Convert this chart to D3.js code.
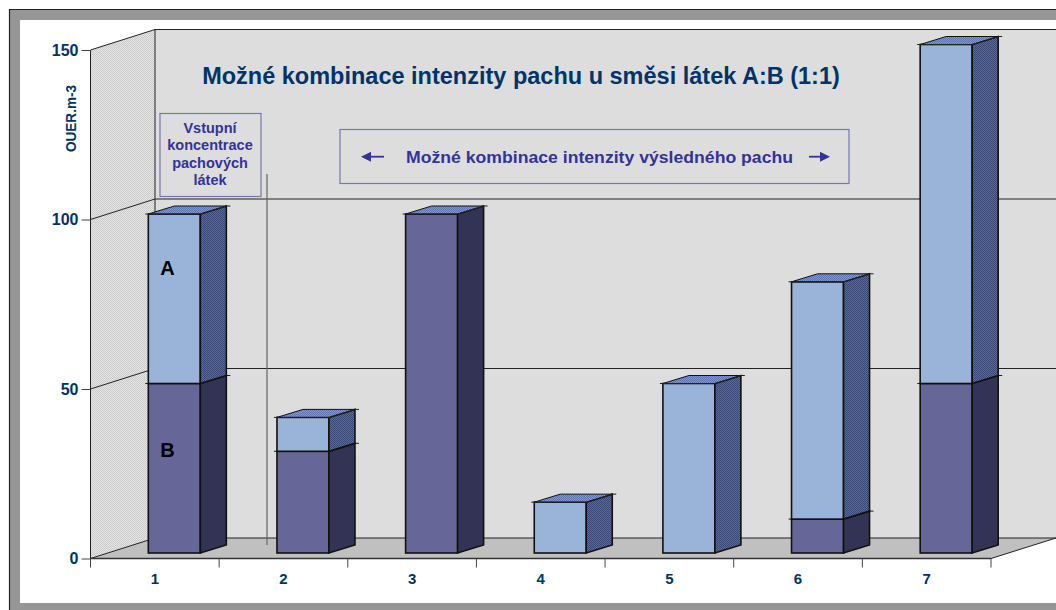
<!DOCTYPE html>
<html>
<head>
<meta charset="utf-8">
<script src="https://cdn.jsdelivr.net/npm/d3@7"></script>
<style>
html, body { margin: 0; padding: 0; background: #fff; overflow: hidden; }
text { font-family: "Liberation Sans", Arial, sans-serif; font-weight: bold; }
</style>
</head>
<body>
<div class="main"></div>
<script>
let categories = ["1", "2", "3", "4", "5", "6", "7"];
let valuesB = [50, 30, 100, 0, 0, 10, 50];
let valuesA = [50, 10, 0, 15, 50, 70, 100];
let yTicks = [0, 50, 100, 150];
let chartTitle = "Možné kombinace intenzity pachu u směsi látek A:B (1:1)";
let axisTitle = "OUER.m-3";
let inputLabel = ["Vstupní", "koncentrace", "pachových", "látek"];
let combinationLabel = "Možné kombinace intenzity výsledného pachu";

let width = 1056;
let height = 610;

let svg = d3.select(".main").append("svg")
    .attr("width", width)
    .attr("height", height)
    .style("display", "block");

const defs = svg.append("defs");

// dotted fills for the walls and the bar sides
function dots(id, bg, fg) {
    let p = defs.append("pattern")
        .attr("id", id)
        .attr("width", 2).attr("height", 2)
        .attr("patternUnits", "userSpaceOnUse");
    p.append("rect").attr("width", 2).attr("height", 2).attr("fill", bg);
    p.append("rect").attr("width", 1).attr("height", 1).attr("fill", fg);
    p.append("rect").attr("x", 1).attr("y", 1).attr("width", 1).attr("height", 1).attr("fill", fg);
}
dots("wall-dots", "#e4e4e4", "#cccccc");
dots("side-a", "#5a6a9a", "#3a4775");
dots("top-a", "#7f95d0", "#5f75b8");

// frame
svg.append("rect")
    .attr("x", 15).attr("y", 15)
    .attr("width", 1060).attr("height", 593)
    .attr("fill", "#fff")
    .attr("stroke", "#969696")
    .attr("stroke-width", 10);
svg.append("path")
    .attr("d", "M1056,9.5H9.5V610")
    .attr("fill", "none")
    .attr("stroke", "#222")
    .attr("stroke-width", 1.2);

// scales
let x0 = 90.5, x1 = 991, y0 = 558.5, y150 = 50;
let depthX = 64.5, depthY = -20.5;

let x = d3.scaleBand().domain(categories).range([x0, x1]);
let y = d3.scaleLinear().domain([0, 150]).range([y0, y150]);

// back wall, left wall, floor
svg.append("path")
    .attr("d", `M${x0 + depthX},${y(150) + depthY}H${width}V${y(0) + depthY}H${x0 + depthX}Z`)
    .attr("fill", "#dddddd");
svg.append("path")
    .attr("d", `M${x0},${y(150)}L${x0 + depthX},${y(150) + depthY}V${y(0) + depthY}L${x0},${y(0)}Z`)
    .attr("fill", "url(#wall-dots)");
svg.append("path")
    .attr("d", `M${x0},${y(0)}L${x0 + depthX},${y(0) + depthY}H${width}L${x1},${y(0)}Z`)
    .attr("fill", "#c0c0c0");

// grid lines
svg.selectAll(".grid")
    .data(yTicks)
    .enter().append("path")
    .attr("class", "grid")
    .attr("d", d => `M${x0},${y(d)}L${x0 + depthX},${y(d) + depthY}H${width}`)
    .attr("fill", "none")
    .attr("stroke", "#222")
    .attr("stroke-width", 1);
svg.append("path")
    .attr("d", `M${x0 + depthX},${y(150) + depthY}V${y(0) + depthY}`)
    .attr("stroke", "#222");
svg.append("path")
    .attr("d", `M${x1},${y(0)}L${width},${y(0) + depthY}`)
    .attr("stroke", "#222");

// axes
let yAxis = d3.axisLeft(y).tickValues(yTicks).tickSize(9).tickPadding(3);
let gy = svg.append("g").attr("transform", `translate(${x0},0)`).call(yAxis);
gy.select(".domain").attr("d", `M0,${y(150)}V${y(0)}`).attr("stroke", "#222");
gy.selectAll("line").attr("stroke", "#444");
gy.selectAll("text")
    .attr("font-size", 16)
    .attr("fill", "#003366");

let xAxis = d3.axisBottom(x).tickSize(0).tickPadding(15);
let gx = svg.append("g").attr("transform", `translate(0,${y0})`).call(xAxis);
gx.select(".domain").attr("d", `M${x0},0H${x1}`).attr("stroke", "#333").attr("stroke-width", 1.4);
gx.selectAll("text")
    .attr("font-size", 15)
    .attr("fill", "#003366");
gx.selectAll(".sep")
    .data(d3.range(categories.length + 1))
    .enter().append("line")
    .attr("class", "sep")
    .attr("x1", i => x0 + i * x.bandwidth())
    .attr("x2", i => x0 + i * x.bandwidth())
    .attr("y1", 0).attr("y2", 9)
    .attr("stroke", "#444");

// vertical separator
svg.append("line")
    .attr("x1", 267).attr("x2", 267)
    .attr("y1", 174).attr("y2", 545)
    .attr("stroke", "#666")
    .attr("stroke-width", 1.2);

// bars
let barW = 52, sideX = 26, sideY = -8;
let shiftX = 19.5, shiftY = -5.5;

let segments = [];
categories.forEach((c, i) => {
    if (valuesB[i] > 0) segments.push({ cat: c, from: 0, to: valuesB[i], kind: "b", top: valuesA[i] === 0 });
    if (valuesA[i] > 0) segments.push({ cat: c, from: valuesB[i], to: valuesB[i] + valuesA[i], kind: "a", top: true });
});

let bars = svg.selectAll(".bar")
    .data(segments)
    .enter().append("g")
    .attr("class", "bar");

function bx(d) { return x(d.cat) + x.bandwidth() / 2 - barW / 2 + shiftX; }

bars.append("rect")
    .attr("x", bx)
    .attr("y", d => y(d.to) + shiftY)
    .attr("width", barW)
    .attr("height", d => y(d.from) - y(d.to))
    .attr("fill", d => d.kind === "a" ? "#99b3d9" : "#666699")
    .attr("stroke", "#111")
    .attr("stroke-width", 1.6);

bars.append("path")
    .attr("d", d => {
        let l = bx(d) + barW, t = y(d.to) + shiftY, b = y(d.from) + shiftY;
        return `M${l},${t}l${sideX},${sideY}V${b + sideY}l${-sideX},${-sideY}Z`;
    })
    .attr("fill", d => d.kind === "a" ? "url(#side-a)" : "#333355")
    .attr("stroke", "#111")
    .attr("stroke-width", 1.6);

bars.filter(d => d.top).append("path")
    .attr("d", d => {
        let l = bx(d), t = y(d.to) + shiftY;
        return `M${l},${t}l${sideX},${sideY}h${barW}l${-sideX},${-sideY}Z`;
    })
    .attr("fill", "url(#top-a)")
    .attr("stroke", "#111")
    .attr("stroke-width", 1);

// small overhang at each segment top
bars.append("path")
    .attr("d", d => {
        let l = bx(d), t = y(d.to) + shiftY;
        return `M${l - 3},${t}H${l + barW}l${sideX},${sideY}h4`;
    })
    .attr("fill", "none")
    .attr("stroke", "#222")
    .attr("stroke-width", 1);

// texts
svg.append("text")
    .attr("x", 521).attr("y", 84)
    .attr("text-anchor", "middle")
    .attr("font-size", 23.5)
    .attr("fill", "#003366")
    .text(chartTitle);

svg.append("text")
    .attr("transform", "translate(75.5,118.5) rotate(-90)")
    .attr("text-anchor", "middle")
    .attr("font-size", 15)
    .attr("textLength", 67)
    .attr("lengthAdjust", "spacingAndGlyphs")
    .attr("fill", "#003366")
    .text(axisTitle);

svg.append("rect")
    .attr("x", 160).attr("y", 113.5)
    .attr("width", 101).attr("height", 83)
    .attr("fill", "none")
    .attr("stroke", "#7777aa")
    .attr("stroke-width", 1.2);
svg.selectAll(".input-label")
    .data(inputLabel)
    .enter().append("text")
    .attr("class", "input-label")
    .attr("x", 210)
    .attr("y", (d, i) => 133 + i * 17.4)
    .attr("text-anchor", "middle")
    .attr("font-size", 14.5)
    .attr("fill", "#333399")
    .text(d => d);

svg.append("rect")
    .attr("x", 340).attr("y", 129.5)
    .attr("width", 509).attr("height", 54)
    .attr("fill", "none")
    .attr("stroke", "#7777aa")
    .attr("stroke-width", 1.2);
svg.append("text")
    .attr("x", 599.5).attr("y", 162.5)
    .attr("text-anchor", "middle")
    .attr("font-size", 16.5)
    .attr("textLength", 387)
    .attr("lengthAdjust", "spacingAndGlyphs")
    .attr("fill", "#333399")
    .text(combinationLabel);

// arrows either side of the label
[[384, 361], [809, 830]].forEach(a => {
    let dir = a[1] > a[0] ? 1 : -1;
    svg.append("path")
        .attr("d", `M${a[0]},156.7H${a[1] - dir * 5}`)
        .attr("stroke", "#333399")
        .attr("stroke-width", 1.8);
    svg.append("path")
        .attr("d", `M${a[1]},156.7l${-dir * 10},-5v10Z`)
        .attr("fill", "#333399");
});

svg.append("text").attr("x", 167.5).attr("y", 275)
    .attr("text-anchor", "middle").attr("font-size", 20).attr("fill", "#000").text("A");
svg.append("text").attr("x", 167.5).attr("y", 456.5)
    .attr("text-anchor", "middle").attr("font-size", 20).attr("fill", "#000").text("B");
</script>
</body>
</html>
